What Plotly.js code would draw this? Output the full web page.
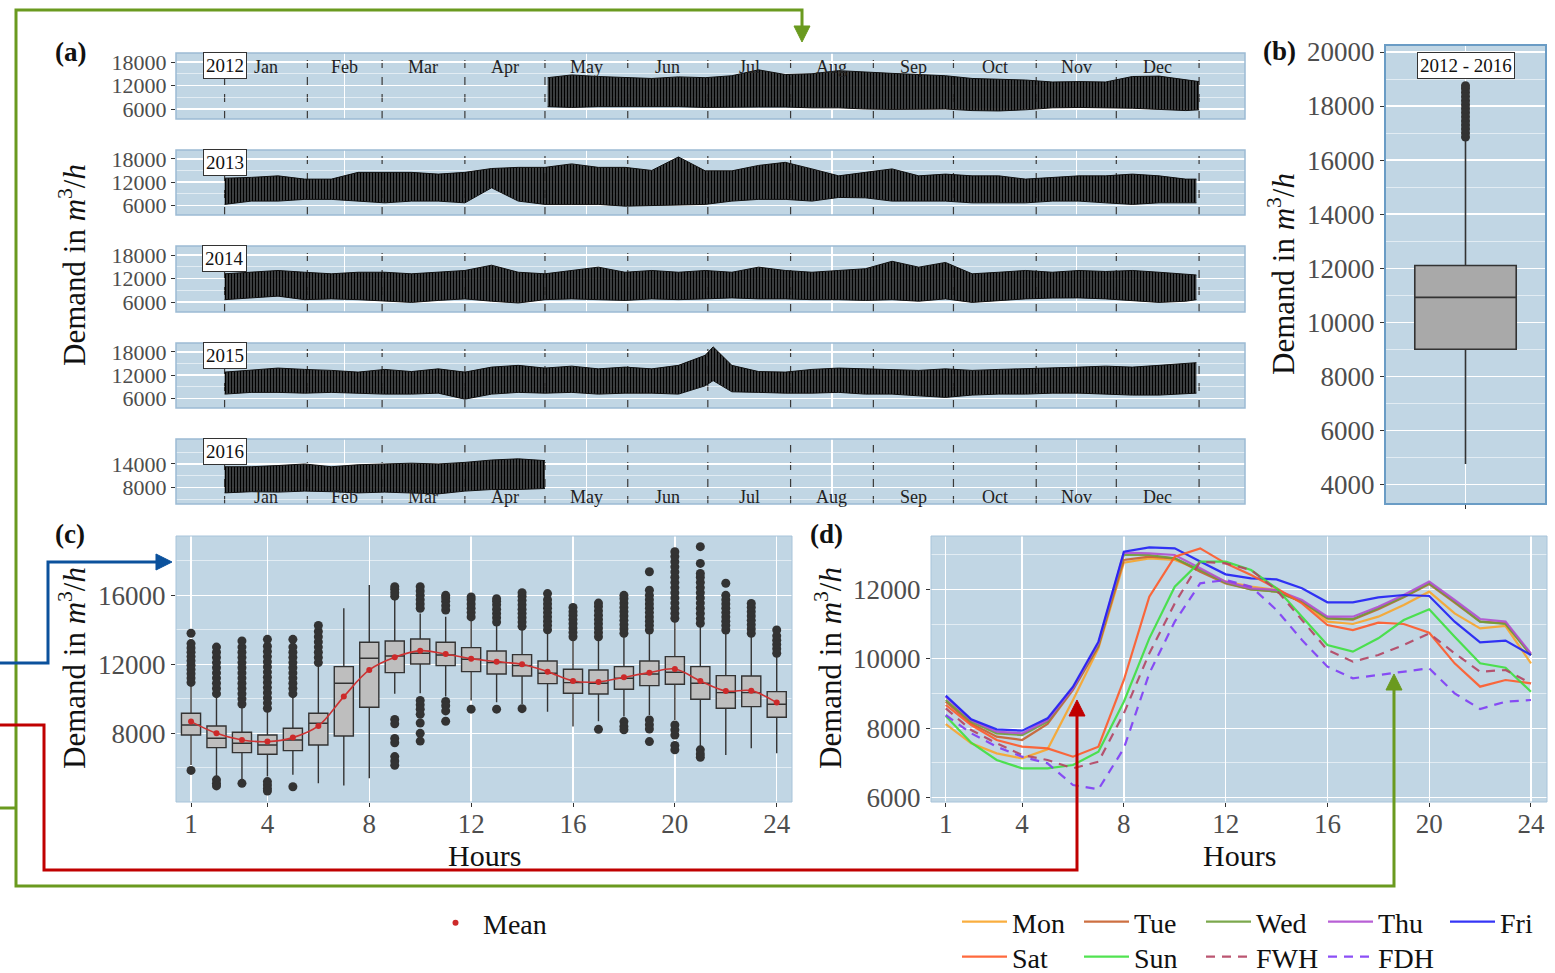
<!DOCTYPE html>
<html>
<head>
<meta charset="utf-8">
<script src="https://cdn.plot.ly/plotly-3.0.1.min.js"></script>
<style>html,body{margin:0;padding:0;background:#fff;}#chart{width:1555px;height:973px;}</style>
</head>
<body>
<div id="chart"></div>
<script>
// ---------------- DATA ----------------
const monthNames = ['Jan','Feb','Mar','Apr','May','Jun','Jul','Aug','Sep','Oct','Nov','Dec'];
const monthLengths = [31,28,31,30,31,30,31,31,30,31,30,31];
const years = ['2012','2013','2014','2015','2016'];

// (a) envelope of hourly demand, sampled every ~10 days (day of year, 0 = 1 Jan)
const days2012 = [121,130,140,150,160,170,180,190,200,210,220,230,240,250,260,270,280,290,300,310,320,330,340,350,360,365];
const hi2012 = [14000,14700,14300,14000,13800,14200,14000,14500,16000,14800,15000,15800,15400,15100,14800,14500,13800,13600,13400,12900,13000,12900,14300,14400,13400,13000];
const lo2012 = [6600,6400,6600,6600,6500,6600,6400,6500,6500,6500,6300,6300,6000,5900,6000,6000,5600,5500,5800,6300,6400,6300,6200,5900,5600,5800];

const daysFull = [0,10,20,30,40,50,60,70,80,90,100,110,120,130,140,150,160,170,180,190,200,210,220,230,240,250,260,270,280,290,300,310,320,330,340,350,360,364];
const hi2013 = [13000,13200,13600,12750,12750,14500,14500,14500,14050,14500,15500,15800,15800,16700,15800,15800,15000,18500,14900,14900,16300,17100,15400,13600,14500,15400,13600,14050,13600,13600,12750,13200,13600,13600,14050,13600,12750,12750];
const lo2013 = [6200,7050,7050,7500,7500,7100,6600,7050,7050,6600,10500,7050,6200,6200,6200,5750,5900,6000,6200,7050,7500,7500,7050,8000,7900,7050,7050,7050,6600,6600,6600,7050,7050,6600,6200,6600,6600,6600];
const hi2014 = [13200,13600,14050,13600,13200,13600,13600,13200,13600,14050,15400,13600,13200,14050,14900,13600,14050,13600,14050,13600,14900,14050,13600,14050,14500,16400,14900,16100,13200,13600,14050,13600,14050,13800,14050,13600,13200,12900];
const lo2014 = [6600,7050,7500,6600,6800,6600,6200,5900,6400,6800,6200,5750,6600,6800,6600,6400,6800,6600,6800,7050,6800,6800,6600,6600,6400,6600,6200,6800,5900,6400,6800,7000,7050,6800,6400,5900,6200,6600];
const days2015 = [0,10,20,30,40,50,60,70,80,90,100,110,120,130,140,150,160,170,180,183,190,200,210,220,230,240,250,260,270,280,290,300,310,320,330,340,350,360,364];
const hi2015 = [12750,13200,13800,13450,13200,12750,13450,12900,13600,12750,14050,14500,13800,14300,13600,14050,13600,14500,17100,19300,14500,12900,12750,13450,13800,13600,13450,13200,13600,13200,13450,13600,13800,14050,14300,14050,14500,14900,15200];
const lo2015 = [7050,7500,7500,7300,7500,7300,7050,7050,7300,5750,7050,7500,7300,7500,7050,7300,7300,7050,9200,10550,7650,7500,7300,7300,7500,7050,7050,6600,6200,6800,7050,7050,7300,7300,7050,6800,6800,7050,7300];
const days2016 = [0,10,20,30,40,50,60,70,80,90,100,110,120];
const hi2016 = [13300,13300,13600,14000,13300,13800,14000,14200,14000,14400,15000,15300,14850];
const lo2016 = [6700,7000,6900,7150,7000,6700,6900,6700,6450,7150,7550,7550,7800];

// (b) overall distribution 2012 - 2016
const allLabel = ['2012 - 2016'];
const allQ1 = [8998], allMedian = [10920], allQ3 = [12100], allLow = [4750], allHigh = [16750];
const allOutliers = [16850,17000,17150,17300,17450,17600,17750,17900,18050,18200,18350,18500,18650,18750];

// (c) hourly distribution
const hours = [1,2,3,4,5,6,7,8,9,10,11,12,13,14,15,16,17,18,19,20,21,22,23,24];
const hQ1 = [7905,7171,6881,6785,6997,7326,7847,9508,11518,12020,11924,11576,11440,11324,10880,10320,10281,10552,10764,10842,9972,9451,9547,8929];
const hMedian = [8485,7712,7422,7326,7615,8581,10900,12349,12484,12638,12542,12291,12097,11924,11479,10938,10900,11189,11440,11537,10900,10359,10359,9682];
const hQ3 = [9160,8426,8060,7905,8291,9161,11866,13276,13353,13469,13276,12967,12774,12561,12194,11711,11672,11866,12194,12445,11866,11344,11324,10417];
const hLow = [6166,5490,5297,5500,5600,5104,4968,5393,10300,10320,10127,9900,9800,9700,9257,8388,8700,8970,9065,8774,7230,6746,7132,6842];
const hHigh = [10800,10127,9550,9300,10100,11900,15247,16599,15800,14950,14764,14570,14280,13990,13800,13508,13500,13600,13800,14570,14280,13800,13700,12542];
const hMean = [8678,8002,7615,7519,7750,8426,10127,11672,12407,12793,12600,12329,12155,12001,11576,11035,10977,11247,11518,11730,11035,10455,10474,9779];
const hOutliers = [
  [10950,11200,11450,11700,11950,12200,12450,12700,12950,13200,13800,5850],
  [10300,10600,10900,11200,11500,11800,12100,12400,12700,13000,5300,5100,4950],
  [9700,10000,10300,10600,10900,11200,11500,11800,12100,12400,12700,13000,13350,5100],
  [9450,9750,10050,10350,10650,10950,11250,11550,11850,12150,12450,12750,13050,13450,5200,5000,4800,4650],
  [10300,10600,10900,11200,11500,11800,12100,12400,12700,13000,13450,4900],
  [12100,12400,12700,13000,13300,13600,13900,14250],
  [],
  [],
  [15950,16150,16350,16500,8800,8550,7700,7450,6650,6400,6150],
  [15250,15500,15750,16000,16250,16500,9900,9650,9400,9100,8600,8000,7550],
  [15150,15400,15650,15850,16000,9850,9600,9300,8700],
  [14750,15000,15250,15500,15750,15900,9400],
  [14450,14700,14950,15200,15450,15650,15800,9400],
  [14200,14450,14700,14950,15200,15450,15700,15950,16150,9430],
  [14000,14250,14500,14750,15000,15250,15500,15750,16100],
  [13600,13850,14100,14350,14600,14850,15050,15300],
  [13600,13850,14100,14350,14600,14850,15100,15350,15550,8230],
  [13800,14050,14300,14550,14800,15050,15300,15550,15800,16000,8680,8400,8200],
  [13990,14250,14500,14750,15000,15250,15500,15750,16000,16300,17370,8770,8500,8250,7520],
  [14670,14950,15250,15550,15850,16150,16450,16750,17050,17350,17650,17950,18250,18530,8480,8200,7900,7300,7040],
  [14380,14650,14950,15250,15550,15850,16150,16450,16750,17050,17270,17850,18820,7040,6800,6610],
  [13990,14250,14500,14750,15000,15250,15500,15750,16000,16700],
  [13800,14050,14300,14550,14800,15050,15300,15530],
  [12640,12900,13150,13400,13650,13990]
];

// (d) mean daily profiles by day type
const dayTypes = ['Mon','Tue','Wed','Thu','Fri','Sat','Sun','FWH','FDH'];
const mon = [8122,7565,7277,7133,7392,8813,10301,12768,12893,12845,12557,12221,12077,11980,11645,11069,11002,11213,11549,11933,11309,10877,10944,9869];
const tue = [8765,8141,7757,7661,8122,9101,10349,12845,12941,12893,12509,12173,12000,11933,11645,11165,11127,11424,11770,12154,11616,11069,11021,10109];
const wed = [8813,8189,7853,7805,8189,9149,10397,12989,12989,12893,12557,12192,12000,11933,11645,11165,11146,11453,11789,12173,11645,11069,11002,10109];
const thu = [8909,8237,7900,7853,8237,9150,10445,13056,13037,12990,12605,12221,12029,11980,11693,11213,11213,11500,11837,12221,11693,11146,11069,10157];
const fri = [8938,8256,7968,7930,8285,9197,10493,13085,13210,13180,12800,12432,12317,12288,12029,11626,11626,11770,11837,11808,11069,10474,10522,10109];
const sat = [8669,8093,7661,7469,7421,7181,7469,9389,11789,12941,13181,12749,12413,12029,11597,10973,10829,11040,11002,10752,9869,9197,9389,9293];
const sun = [8352,7584,7085,6845,6845,6941,7325,8765,10589,12077,12797,12797,12557,12029,11213,10397,10205,10589,11117,11424,10637,9869,9744,9053];
const fwh = [8573,7949,7565,7229,7085,6845,7037,8429,10157,11597,12797,12749,12557,11980,11117,10253,9917,10109,10397,10733,10157,9629,9677,9293];
const fdh = [8381,7853,7469,7181,6989,6365,6240,7421,9581,11069,12173,12269,12077,11405,10541,9773,9437,9533,9629,9725,9005,8554,8765,8813];

// ---------------- STYLE / LAYOUT ----------------
const W = 1555, H = 973;
const FONT = '"Liberation Serif", "DejaVu Serif", serif';
const BG = '#C1D6E4';
const fx = p => p / W;
const fy = p => 1 - p / H;

const monthStart = [0];
monthLengths.forEach((l, i) => monthStart.push(monthStart[i] + l));
const monthMid = monthLengths.map((l, i) => monthStart[i] + l / 2);
const gridDays = [monthMid[1], monthMid[4], monthMid[7], monthMid[10]];

function ax(extra) {
  return Object.assign({
    showline: false, zeroline: false, showgrid: true, gridcolor: '#FFFFFF', gridwidth: 1.3,
    ticks: 'outside', ticklen: 4, tickwidth: 1, tickcolor: '#333333', tickformat: 'd',
    tickfont: {family: FONT, size: 27, color: '#4D4D4D'}, automargin: false, fixedrange: true
  }, extra);
}
const minorGrid = vals => ({tickmode: 'array', tickvals: vals, showgrid: true, gridcolor: 'rgba(255,255,255,0.6)', gridwidth: 0.9, ticks: ''});

const layout = {
  width: W, height: H, autosize: false,
  margin: {l: 0, r: 0, t: 0, b: 0, pad: 0, autoexpand: false},
  paper_bgcolor: '#FFFFFF', plot_bgcolor: BG,
  font: {family: FONT, color: '#111'},
  showlegend: true,
  shapes: [], annotations: []
};

// rows of panel (a)
const rowPix = [[53,119],[150,215],[246,312],[343,408],[439,504]];
const bandData = [
  [days2012, lo2012, hi2012], [daysFull, lo2013, hi2013], [daysFull, lo2014, hi2014],
  [days2015, lo2015, hi2015], [days2016, lo2016, hi2016]
];
const rowTickFont = {family: FONT, size: 22, color: '#4D4D4D'};
const traces = [];
rowPix.forEach((rp, i) => {
  const n = i + 1;
  const xk = n === 1 ? 'xaxis' : 'xaxis' + n, yk = n === 1 ? 'yaxis' : 'yaxis' + n;
  const xr = n === 1 ? 'x' : 'x' + n, yr = n === 1 ? 'y' : 'y' + n;
  layout[xk] = ax({
    domain: [fx(176), fx(1245)], anchor: yr, range: [-18.2, 382.2],
    tickmode: 'array', tickvals: gridDays, showticklabels: false, ticks: '', showgrid: true
  });
  layout[yk] = ax(n === 5 ? {
    domain: [fy(rp[1]), fy(rp[0])], anchor: xr, range: [3900, 20300], tickfont: rowTickFont,
    tickmode: 'array', tickvals: [8000, 14000], minor: minorGrid([5000, 11000, 17000])
  } : {
    domain: [fy(rp[1]), fy(rp[0])], anchor: xr, range: [3450, 20300], tickfont: rowTickFont,
    tickmode: 'array', tickvals: [6000, 12000, 18000], minor: minorGrid([9000, 15000])
  });
  const [d, lo, hi] = bandData[i];
  traces.push({x: d, y: lo, type: 'scatter', mode: 'lines', xaxis: xr, yaxis: yr,
    line: {color: '#111', width: 1}, showlegend: false, hoverinfo: 'skip'});
  traces.push({x: d, y: hi, type: 'scatter', mode: 'lines', xaxis: xr, yaxis: yr,
    line: {color: '#111', width: 1}, fill: 'tonexty', fillcolor: 'rgba(20,20,20,0.8)',
    fillpattern: {shape: '|', fgcolor: '#000000', bgcolor: 'rgba(70,70,70,0.8)', size: 3, solidity: 0.6},
    showlegend: false, hoverinfo: 'skip'});
  monthStart.forEach(s => layout.shapes.push({type: 'line', xref: xr, yref: yr + ' domain', x0: s, x1: s, y0: 0, y1: 1,
    line: {color: '#3A3A3A', width: 1.2, dash: '8px,9px'}, layer: 'below'}));
  layout.shapes.push({type: 'rect', xref: xr + ' domain', yref: yr + ' domain', x0: 0, x1: 1, y0: 0, y1: 1,
    line: {color: '#9CBAD3', width: 1.5}});
  layout.annotations.push({xref: xr, yref: yr + ' domain', x: 0, y: 1, yanchor: 'top', xanchor: 'center', yshift: 1,
    text: years[i], showarrow: false, font: {family: FONT, size: 19, color: '#111'},
    bgcolor: '#FFFFFF', bordercolor: '#333', borderwidth: 1, borderpad: 2});
  // month labels on the first and last rows
  if (n === 1 || n === 5) {
    monthNames.forEach((m, k) => layout.annotations.push({xref: xr, yref: yr + ' domain', x: monthMid[k],
      y: n === 1 ? 0.79 : 0.11, xanchor: 'center', yanchor: 'middle', text: m, showarrow: false,
      font: {family: FONT, size: 18, color: '#222'}}));
  }
});

// panel (b)
layout.xaxis6 = ax({domain: [fx(1385), fx(1546)], anchor: 'y6', type: 'category', showticklabels: false, range: [-0.5, 0.5]});
layout.yaxis6 = ax({domain: [fy(504), fy(45)], anchor: 'x6', range: [3272, 20259], tickmode: 'array',
  tickvals: [4000,6000,8000,10000,12000,14000,16000,18000,20000],
  minor: minorGrid([5000,7000,9000,11000,13000,15000,17000,19000])});
traces.push({type: 'box', x: allLabel, q1: allQ1, median: allMedian, q3: allQ3, lowerfence: allLow, upperfence: allHigh,
  xaxis: 'x6', yaxis: 'y6', width: 0.63, whiskerwidth: 0, boxpoints: false, fillcolor: '#A9A9A9', line: {color: '#333', width: 1.6},
  showlegend: false, hoverinfo: 'skip'});
traces.push({type: 'scatter', mode: 'markers', x: allOutliers.map(() => allLabel[0]), y: allOutliers, xaxis: 'x6', yaxis: 'y6',
  marker: {color: '#333', size: 9}, showlegend: false, hoverinfo: 'skip'});
layout.shapes.push({type: 'rect', xref: 'x6 domain', yref: 'y6 domain', x0: 0, x1: 1, y0: 0, y1: 1, line: {color: '#6A9CC5', width: 2}});
layout.annotations.push({xref: 'x6 domain', yref: 'y6', x: 0.5, y: 19500, text: '2012 - 2016', showarrow: false,
  font: {family: FONT, size: 19, color: '#111'}, bgcolor: '#FFFFFF', bordercolor: '#333', borderwidth: 1, borderpad: 2});

// panel (c)
layout.xaxis7 = ax({domain: [fx(176), fx(792)], anchor: 'y7', range: [0.41, 24.6], tickmode: 'array', tickvals: [1,4,8,12,16,20,24], ticklabelstandoff: -6});
layout.yaxis7 = ax({domain: [fy(802), fy(536)], anchor: 'x7', range: [4017, 19440], tickmode: 'array', tickvals: [8000,12000,16000],
  minor: minorGrid([6000,10000,14000,18000])});
traces.push({type: 'box', x: hours, q1: hQ1, median: hMedian, q3: hQ3, lowerfence: hLow, upperfence: hHigh,
  xaxis: 'x7', yaxis: 'y7', width: 0.75, whiskerwidth: 0, boxpoints: false, fillcolor: '#BEBEBE', line: {color: '#333', width: 1.4},
  showlegend: false, hoverinfo: 'skip'});
const oX = [], oY = [];
hOutliers.forEach((arr, i) => arr.forEach(v => { oX.push(hours[i]); oY.push(v); }));
traces.push({type: 'scatter', mode: 'markers', x: oX, y: oY, xaxis: 'x7', yaxis: 'y7',
  marker: {color: '#333', size: 9}, showlegend: false, hoverinfo: 'skip'});
traces.push({type: 'scatter', mode: 'lines', x: hours, y: hMean, xaxis: 'x7', yaxis: 'y7',
  line: {color: '#CD3333', width: 1.6, shape: 'spline'}, showlegend: false, hoverinfo: 'skip'});
traces.push({type: 'scatter', mode: 'markers', x: hours, y: hMean, xaxis: 'x7', yaxis: 'y7', name: 'Mean',
  marker: {color: '#CD2A2A', size: 6}, legend: 'legend', showlegend: true, hoverinfo: 'skip'});
layout.shapes.push({type: 'rect', xref: 'x7 domain', yref: 'y7 domain', x0: 0, x1: 1, y0: 0, y1: 1, line: {color: '#A8C4DA', width: 1}});

// panel (d)
layout.xaxis8 = ax({domain: [fx(931), fx(1547)], anchor: 'y8', range: [0.42, 24.63], tickmode: 'array', tickvals: [1,4,8,12,16,20,24], ticklabelstandoff: -6});
layout.yaxis8 = ax({domain: [fy(802), fy(536)], anchor: 'x8', range: [5876, 13536], tickmode: 'array', tickvals: [6000,8000,10000,12000],
  minor: minorGrid([7000,9000,11000,13000])});
const profiles = [mon, tue, wed, thu, fri, sat, sun, fwh, fdh];
const pColors = ['#F8A52A','#C8612E','#6E9E3A','#B04FD0','#1F1FF5','#FF5A28','#3EE03E','#B44462','#7F3CF5'];
profiles.forEach((p, i) => traces.push({type: 'scatter', mode: 'lines', x: hours, y: p, xaxis: 'x8', yaxis: 'y8',
  name: dayTypes[i], legend: i < 5 ? 'legend2' : 'legend3',
  line: {color: pColors[i], width: 2.2, dash: i >= 7 ? '9px,7px' : 'solid'}, opacity: 0.9, hoverinfo: 'skip'}));
layout.shapes.push({type: 'rect', xref: 'x8 domain', yref: 'y8 domain', x0: 0, x1: 1, y0: 0, y1: 1, line: {color: '#A8C4DA', width: 1}});

// legends
const legFont = {family: FONT, size: 28, color: '#111'};
layout.legend = {x: fx(428), y: fy(923), xanchor: 'left', yanchor: 'middle', orientation: 'h', font: legFont, bgcolor: 'rgba(0,0,0,0)', itemwidth: 45};
layout.legend2 = {x: fx(957), y: fy(922), xanchor: 'left', yanchor: 'middle', orientation: 'h', font: legFont, bgcolor: 'rgba(0,0,0,0)', itemwidth: 45, entrywidth: 62, entrywidthmode: 'pixels'};
layout.legend3 = {x: fx(957), y: fy(957), xanchor: 'left', yanchor: 'middle', orientation: 'h', font: legFont, bgcolor: 'rgba(0,0,0,0)', itemwidth: 45, entrywidth: 62, entrywidthmode: 'pixels'};

// panel labels and axis titles
const txt = (x, y, text, size, extra) => layout.annotations.push(Object.assign({xref: 'paper', yref: 'paper', x: fx(x), y: fy(y),
  xanchor: 'center', yanchor: 'middle', text: text, showarrow: false, font: {family: FONT, size: size, color: '#111'}}, extra || {}));
txt(70, 52, '<b>(a)</b>', 27);
txt(1279, 51, '<b>(b)</b>', 27);
txt(70, 534, '<b>(c)</b>', 27);
txt(826, 534, '<b>(d)</b>', 27);
const yTitle = 'Demand in <i>m</i><sup>3</sup>/<i>h</i>';
txt(72, 265, yTitle, 31, {textangle: -90});
txt(1281, 274, yTitle, 31, {textangle: -90});
txt(72, 668, yTitle, 31, {textangle: -90});
txt(828, 668, yTitle, 31, {textangle: -90});
txt(484, 855, 'Hours', 30);
txt(1239, 855, 'Hours', 30);

// connecting arrows
const P = pts => pts.map((p, i) => (i ? 'L' : 'M') + fx(p[0]).toFixed(5) + ',' + fy(p[1]).toFixed(5)).join(' ');
const arrowLine = (pts, color) => layout.shapes.push({type: 'path', xref: 'paper', yref: 'paper', path: P(pts), line: {color: color, width: 3}, layer: 'above'});
const arrowHead = (pts, color) => layout.shapes.push({type: 'path', xref: 'paper', yref: 'paper', path: P(pts) + ' Z', fillcolor: color, line: {color: color, width: 1}, layer: 'above'});
const GREEN = '#6A9A1F', BLUE = '#0B519C', RED = '#C00000';
arrowLine([[802,28],[802,10],[16,10],[16,886],[1394,886],[1394,690]], GREEN);
arrowLine([[0,808],[16,808]], GREEN);
arrowHead([[794,26],[810,26],[802,42]], GREEN);
arrowHead([[1386,690],[1402,690],[1394,674]], GREEN);
arrowLine([[0,663],[48,663],[48,562],[158,562]], BLUE);
arrowHead([[156,554],[156,570],[172,562]], BLUE);
arrowLine([[0,725],[44,725],[44,870],[1077,870],[1077,716]], RED);
arrowHead([[1069,716],[1085,716],[1077,700]], RED);

Plotly.newPlot('chart', traces, layout, {staticPlot: true, displayModeBar: false});
</script>
</body>
</html>
